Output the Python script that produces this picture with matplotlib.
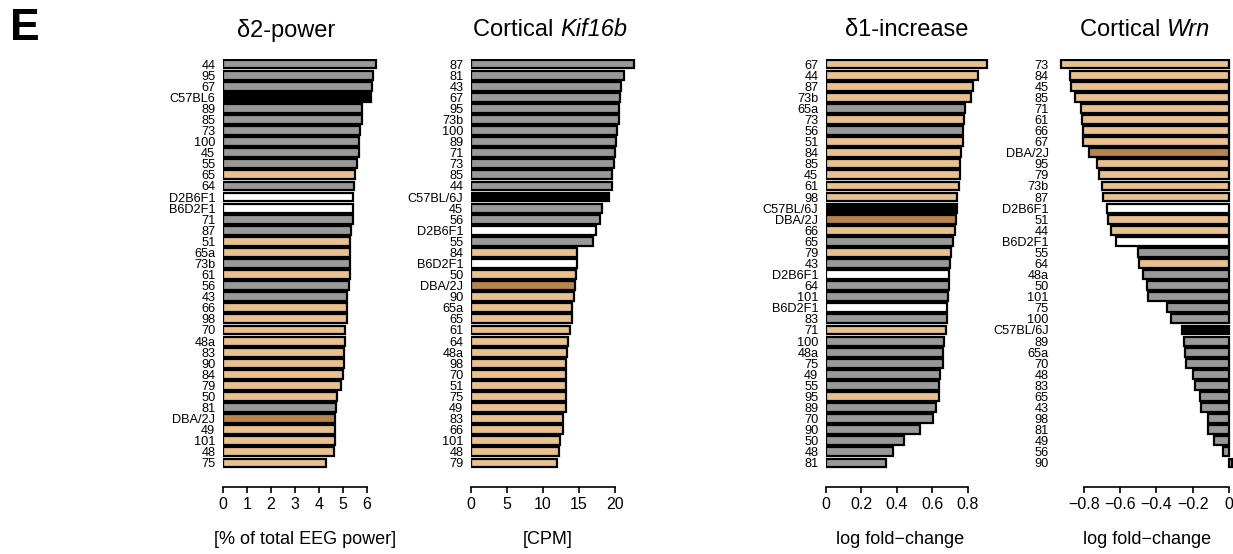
import matplotlib
matplotlib.use('Agg')
import matplotlib.pyplot as plt
from matplotlib.ticker import FixedLocator, FixedFormatter

plt.rcParams['font.family'] = ['Liberation Sans', 'DejaVu Sans']

# ---------------- data ----------------
p1_labels = ["44", "95", "67", "C57BL6", "89", "85", "73", "100", "45", "55",
             "65", "64", "D2B6F1", "B6D2F1", "71", "87", "51", "65a", "73b", "61",
             "56", "43", "66", "98", "70", "48a", "83", "90", "84", "79",
             "50", "81", "DBA/2J", "49", "101", "48", "75"]
p1_values = [6.38, 6.26, 6.20, 6.18, 5.79, 5.79, 5.71, 5.67, 5.66, 5.58,
             5.49, 5.47, 5.43, 5.43, 5.42, 5.35, 5.31, 5.29, 5.29, 5.29,
             5.25, 5.17, 5.15, 5.15, 5.10, 5.10, 5.04, 5.03, 5.01, 4.90,
             4.74, 4.70, 4.68, 4.68, 4.68, 4.61, 4.29]
p1_groups = "gggkgggggg" "tgwwggttgt" "ggtttttttt" "tgdtttt"

p2_labels = ["87", "81", "43", "67", "95", "73b", "100", "89", "71", "73",
             "85", "44", "C57BL/6J", "45", "56", "D2B6F1", "55", "84", "B6D2F1", "50",
             "DBA/2J", "90", "65a", "65", "61", "64", "48a", "98", "70", "51",
             "75", "49", "83", "66", "101", "48", "79"]
p2_values = [22.68, 21.29, 20.79, 20.74, 20.60, 20.56, 20.28, 20.14, 20.00, 19.82,
             19.63, 19.63, 19.12, 18.24, 17.87, 17.36, 16.94, 14.77, 14.68, 14.54,
             14.44, 14.35, 14.07, 14.03, 13.80, 13.52, 13.29, 13.24, 13.24, 13.24,
             13.24, 13.15, 12.82, 12.78, 12.36, 12.22, 11.99]
p2_groups = "gggggggggggg" "kggwgtwtd" "tttttttttttttttt"

p3_labels = ["67", "44", "87", "73b", "65a", "73", "56", "51", "84", "85",
             "45", "61", "98", "C57BL/6J", "DBA/2J", "66", "65", "79", "43", "D2B6F1",
             "64", "101", "B6D2F1", "83", "71", "100", "48a", "75", "49", "55",
             "95", "89", "70", "90", "50", "48", "81"]
p3_values = [0.911, 0.859, 0.829, 0.821, 0.785, 0.780, 0.776, 0.776, 0.761, 0.757,
             0.755, 0.753, 0.738, 0.738, 0.736, 0.727, 0.719, 0.704, 0.702, 0.697,
             0.695, 0.688, 0.682, 0.682, 0.677, 0.669, 0.660, 0.660, 0.644, 0.640,
             0.637, 0.621, 0.606, 0.531, 0.441, 0.377, 0.337]
p3_groups = "ttttgtgttt" "tttkdtgtgw" "ggwgtggggg" "tgggggg"

p4_labels = ["73", "84", "45", "85", "71", "61", "66", "67", "DBA/2J", "95",
             "79", "73b", "87", "D2B6F1", "51", "44", "B6D2F1", "55", "64", "48a",
             "50", "101", "75", "100", "C57BL/6J", "89", "65a", "70", "48", "83",
             "65", "43", "98", "81", "49", "56", "90"]
p4_values = [-0.925, -0.873, -0.870, -0.846, -0.813, -0.809, -0.806, -0.804, -0.769, -0.728,
             -0.714, -0.701, -0.692, -0.670, -0.664, -0.648, -0.622, -0.501, -0.493, -0.475,
             -0.451, -0.444, -0.340, -0.321, -0.260, -0.246, -0.242, -0.238, -0.196, -0.187,
             -0.161, -0.156, -0.116, -0.114, -0.084, -0.035, 0.015]
p4_groups = "ttttttttdt" "tttwttwgtg" "ggggkggggg" "ggggggg"

# titles: (upright part, italic part)
titles = [("\u03b42-power", ""), ("Cortical ", "Kif16b"), ("\u03b41-increase", ""), ("Cortical ", "Wrn")]
xlabels = ["[% of total EEG power]", "[CPM]", "log fold\u2212change", "log fold\u2212change"]
xticks = [[0, 1, 2, 3, 4, 5, 6], [0, 5, 10, 15, 20], [0, 0.2, 0.4, 0.6, 0.8], [-0.8, -0.6, -0.4, -0.2, 0]]
xticklabels = [["0", "1", "2", "3", "4", "5", "6"], ["0", "5", "10", "15", "20"],
               ["0", "0.2", "0.4", "0.6", "0.8"], ["\u22120.8", "\u22120.6", "\u22120.4", "\u22120.2", "0"]]

colors = {'g': '#999999', 't': '#E8C18F', 'd': '#B8844E', 'k': '#000000', 'w': '#FFFFFF'}

# ---------------- layout (pixels) ----------------
W, H = 1233, 554
fig = plt.figure(figsize=(W / 100, H / 100), dpi=100)
renderer = fig.canvas.get_renderer()

# (zero pixel, px per unit, xmin, xmax)
geom = [(223, 24.0, 0, 6.5), (471, 7.2, 0, 23.0), (826, 177.0, 0, 0.93), (1229, 181.7, -0.95, 0.02)]
title_x = [286, 550, 907, 1145]
xlabel_x = [305, 548, 900, 1147]
top_px, bot_px = 58.5, 468.5

panels = [(p1_labels, p1_values, p1_groups), (p2_labels, p2_values, p2_groups),
          (p3_labels, p3_values, p3_groups), (p4_labels, p4_values, p4_groups)]

for i, (labels, values, groups) in enumerate(panels):
    z, s, xmin, xmax = geom[i]
    left_px = z + xmin * s
    width_px = (xmax - xmin) * s
    ax = fig.add_axes([left_px / W, 1 - bot_px / H, width_px / W, (bot_px - top_px) / H])
    ypos = list(range(len(labels)))
    ax.barh(ypos, values, height=0.8, color=[colors[c] for c in groups],
            edgecolor='black', linewidth=1.6)
    ax.set_xlim(xmin, xmax)
    ax.set_ylim(len(labels) - 0.5, -0.5)
    ax.set_yticks(ypos)
    ax.set_yticklabels(labels, fontsize=9.2)
    ax.tick_params(axis='y', length=0, pad=5.5)
    for sp in ['left', 'right', 'top']:
        ax.spines[sp].set_visible(False)
    ax.spines['bottom'].set_position(('outward', 13))
    ax.spines['bottom'].set_bounds(xticks[i][0], xticks[i][-1])
    ax.spines['bottom'].set_linewidth(1.2)
    ax.xaxis.set_major_locator(FixedLocator(xticks[i]))
    ax.xaxis.set_major_formatter(FixedFormatter(xticklabels[i]))
    ax.tick_params(axis='x', length=4.5, width=1.2, labelsize=11.5, pad=3)
    ax.patch.set_visible(False)

    # title (upright + italic part), centred as a whole
    up, it = titles[i]
    ty = 1 - 30 / H
    t1 = fig.text(0, ty, up, fontsize=17, ha='left', va='center')
    w1 = t1.get_window_extent(renderer).width
    w2 = 0
    t2 = None
    if it:
        t2 = fig.text(0, ty, it, fontsize=17, style='italic', ha='left', va='center')
        w2 = t2.get_window_extent(renderer).width
    x0 = title_x[i] - (w1 + w2) / 2
    t1.set_x(x0 / W)
    if t2 is not None:
        t2.set_x((x0 + w1) / W)

    fig.text(xlabel_x[i] / W, 1 - 540 / H, xlabels[i], fontsize=13, ha='center', va='center')

fig.text(10 / W, 1 - 28 / H, "E", fontsize=32, fontweight='bold', ha='left', va='center')

fig.savefig('out.png', dpi=100)
